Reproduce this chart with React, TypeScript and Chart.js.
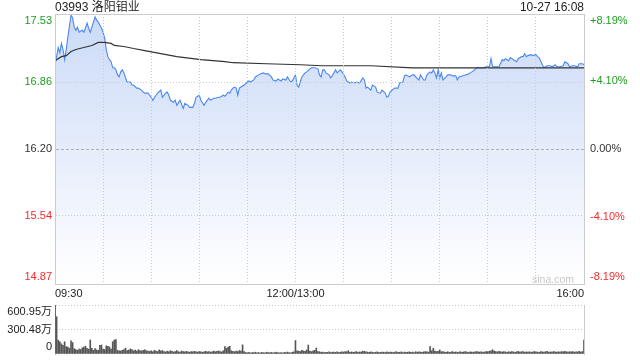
import React, { useEffect, useRef } from 'react';
import { Chart, registerables } from 'chart.js';

Chart.register(...registerables);

const FONT = "'Liberation Sans', 'Noto Sans CJK SC', Arial, sans-serif";

const STOCK_TITLE = '03993 洛阳钼业';
const TIMESTAMP = '10-27 16:08';
const WATERMARK = 'sina.com';

const PREV_CLOSE = 16.2;
const PRICE_MIN = 14.87;
const PRICE_MAX = 17.53;
const PCT_MAX = 8.19;
const priceTicks = [14.87, 15.54, 16.2, 16.86, 17.53];
const pctTicks = [-8.19, -4.1, 0, 4.1, 8.19];

const TOTAL_MINUTES = 330;
const gridMinutes = [0, 30, 60, 90, 120, 150, 180, 210, 240, 270, 300, 330];
const timeLabels: Record<number, string> = { 0: '09:30', 150: '12:00/13:00', 330: '16:00' };

const priceMinutes = [
  0, 1, 2, 3, 4, 5, 6, 7, 8, 10, 11, 12, 13, 14, 15, 17, 18, 19, 20, 21, 22, 23, 25, 26, 27, 28, 29, 30,
  31, 32, 33, 34, 35, 36, 37, 38, 39, 40, 41, 42, 43, 44, 45, 47, 48, 49, 51, 52, 54, 55, 56, 58, 60, 61,
  63, 64, 66, 67, 69, 70, 71, 72, 74, 75, 76, 78, 80, 81, 83, 84, 86, 87, 88, 90, 91, 93, 94, 96, 97, 99,
  100, 102, 103, 105, 106, 108, 109, 110, 111, 112, 113, 114, 115, 116, 118, 120, 121, 122, 124, 125, 127,
  128, 130, 131, 133, 135, 136, 138, 139, 141, 142, 144, 145, 147, 148, 150, 151, 152, 153, 154, 156, 157,
  159, 160, 162, 164, 165, 166, 167, 168, 169, 171, 172, 174, 175, 176, 178, 179, 181, 182, 184, 185, 187,
  188, 190, 192, 193, 194, 195, 197, 198, 200, 201, 203, 204, 206, 207, 208, 209, 211, 212, 214, 215, 217,
  218, 219, 221, 222, 223, 224, 225, 227, 228, 230, 231, 232, 234, 235, 236, 237, 238, 239, 240, 241, 242,
  244, 245, 247, 248, 250, 251, 252, 254, 256, 258, 259, 261, 263, 265, 267, 269, 271, 272, 273, 275, 276,
  277, 279, 280, 281, 283, 284, 286, 288, 289, 291, 292, 293, 294, 295, 297, 298, 300, 301, 302, 304, 305,
  306, 307, 309, 310, 312, 313, 315, 317, 318, 320, 321, 323, 324, 326, 327, 329, 330,
];

const prices = [
  17.03, 17.11, 17.2, 17.15, 17.24, 17.18, 17.08, 17.18, 17.3, 17.52, 17.49, 17.4, 17.37, 17.4, 17.35, 17.37,
  17.35, 17.39, 17.44, 17.39, 17.35, 17.4, 17.5, 17.47, 17.45, 17.42, 17.39, 17.35,
  17.29, 17.18, 17.11, 17.08, 17.06, 17.0, 17.0, 16.98, 16.93, 16.91, 16.96, 16.98, 16.95, 16.9, 16.86,
  16.86, 16.83, 16.83, 16.8, 16.8, 16.78, 16.76, 16.75, 16.75, 16.71, 16.68,
  16.73, 16.75, 16.78, 16.71, 16.75, 16.76, 16.73, 16.68, 16.66, 16.68, 16.63, 16.68, 16.6, 16.65, 16.63,
  16.61, 16.61, 16.65, 16.71, 16.73, 16.68, 16.63, 16.66, 16.7, 16.68, 16.7,
  16.7, 16.71, 16.71, 16.73, 16.72, 16.76, 16.75, 16.78, 16.8, 16.81, 16.8, 16.73, 16.8, 16.81, 16.83, 16.86,
  16.87, 16.86, 16.88, 16.91, 16.93,
  16.94, 16.95, 16.94, 16.94, 16.91, 16.88, 16.87, 16.89, 16.87, 16.89, 16.88, 16.91, 16.86, 16.87, 16.93,
  16.83, 16.81, 16.86, 16.91, 16.95, 16.96,
  16.99, 17.0, 17.0, 16.99, 16.93, 16.91, 16.98, 16.98, 16.95, 16.93, 16.9, 16.95, 16.98, 16.95, 16.98, 16.96,
  16.91, 16.87, 16.85, 16.86, 16.85,
  16.86, 16.85, 16.9, 16.88, 16.8, 16.81, 16.78, 16.83, 16.81, 16.76, 16.75, 16.78, 16.75, 16.71, 16.72, 16.76,
  16.79, 16.8, 16.8, 16.85, 16.86,
  16.92, 16.93, 16.91, 16.92, 16.93, 16.93, 16.91, 16.88, 16.93, 16.88, 16.88, 16.93, 16.96, 16.95, 16.98,
  16.95, 16.9, 16.98, 16.9, 16.95, 16.88,
  16.91, 16.93, 16.93, 16.92, 16.92, 16.88, 16.91, 16.92, 16.93, 16.94, 16.95, 16.97, 17.0, 17.0, 17.0, 17.01,
  17.01, 17.09, 17.01, 17.01, 17.01,
  17.01, 17.08, 17.07, 17.09, 17.07, 17.1, 17.08, 17.06, 17.09, 17.11, 17.11, 17.14, 17.11, 17.12, 17.13,
  17.12, 17.13, 17.11, 17.1, 17.03, 17.0,
  17.01, 17.02, 17.02, 17.01, 17.03, 17.01, 17.01, 17.02, 17.06, 17.04, 17.01, 17.02, 17.02, 17.01, 17.04,
  17.04, 17.03,
];

const avgMinutes = [0, 4, 7, 10, 13, 18, 23, 27, 31, 35, 37, 43, 49, 56, 66, 76, 91, 106, 111, 132, 153, 167, 197, 223, 265, 330];
const avgPrices = [
  17.07, 17.11, 17.12, 17.16, 17.18, 17.2, 17.22, 17.25, 17.25, 17.24, 17.22, 17.21, 17.19, 17.17, 17.14,
  17.11, 17.08, 17.06, 17.05, 17.04, 17.03, 17.02, 17.02, 17.0, 17.0, 17.0,
];

// volume per minute (万股), minute 0 .. 330
const volumes = [
  600.95, 457, 170, 150, 125, 105, 150, 90, 85, 70,
  160, 140, 65, 55, 45, 60, 55, 75, 85, 95,
  70, 60, 172, 70, 45, 65, 50, 45, 105, 110,
  60, 55, 100, 95, 85, 60, 150, 172, 176, 45,
  40, 38, 45, 55, 72, 42, 48, 62, 55, 40,
  48, 36, 52, 42, 38, 46, 52, 40, 36, 32,
  40, 28, 45, 35, 30, 50, 38, 42, 30, 26,
  35, 28, 40, 32, 25, 30, 42, 28, 24, 36,
  30, 26, 32, 28, 22, 30, 26, 34, 28, 24,
  30, 26, 22, 28, 34, 26, 30, 24, 28, 36,
  28, 32, 38, 30, 26, 40, 92, 70, 85, 95,
  40, 32, 28, 35, 30, 42, 36, 112, 30, 18,
  15, 20, 12, 18, 16, 22, 14, 18, 12, 20,
  16, 14, 22, 18, 15, 20, 14, 17, 22, 16,
  14, 18, 12, 20, 16, 24, 18, 14, 22, 26,
  165, 40, 35, 30, 45, 38, 32, 50, 110, 35,
  30, 38, 45, 72, 30, 28, 20, 24, 18, 22,
  20, 26, 18, 22, 24, 20, 28, 18, 22, 26,
  24, 30, 28, 40, 22, 26, 20, 24, 30, 22,
  26, 24, 35, 32, 28, 24, 20, 26, 22, 18,
  22, 26, 18, 20, 24, 22, 18, 26, 20, 24,
  22, 18, 24, 28, 20, 22, 26, 18, 24, 20,
  22, 26, 20, 24, 18, 28, 22, 26, 24, 20,
  26, 30, 28, 24, 92, 40, 70, 35, 30, 32,
  50, 28, 30, 24, 22, 28, 20, 24, 30, 22,
  26, 20, 24, 28, 22, 26, 30, 24, 20, 26,
  24, 22, 28, 30, 26, 24, 28, 22, 26, 30,
  28, 34, 40, 52, 36, 30, 26, 32, 28, 24,
  30, 26, 22, 28, 24, 30, 26, 22, 28, 32,
  24, 28, 30, 22, 26, 24, 28, 22, 26, 30,
  28, 24, 22, 30, 26, 24, 28, 32, 22, 26,
  24, 30, 26, 22, 28, 24, 30, 26, 32, 28,
  24, 28, 26, 30, 22, 28, 26, 32, 24, 30,
  172,
];
const VOL_MAX = 600.95;
const volTicks = [0, 300.48, 600.95];

const UP = '#1e9e1e';
const DOWN = '#f52a2a';
const NEUTRAL = '#333333';
const BORDER = '#cccccc';
const LEFT_W = 55;
const RIGHT_W = 56;

function colorFor(v: number, base: number) {
  if (Math.abs(v - base) < 1e-6) return NEUTRAL;
  return v > base ? UP : DOWN;
}

function edgeLabel(label: string, index: number, count: number): string | string[] {
  if (index === 0) return [label, ''];
  if (index === count - 1) return ['', label];
  return label;
}

export default function App() {
  const priceRef = useRef<HTMLCanvasElement | null>(null);
  const volRef = useRef<HTMLCanvasElement | null>(null);

  useEffect(() => {
    Chart.defaults.font.family = FONT;
    Chart.defaults.font.size = 11;

    const fixWidth = (w: number) => (scale: any) => {
      scale.width = w;
      scale.paddingTop = 0;
      scale.paddingBottom = 0;
    };

    const priceChart = new Chart(priceRef.current!, {
      type: 'line',
      data: {
        datasets: [
          {
            label: '均价',
            data: avgMinutes.map((m, i) => ({ x: m, y: avgPrices[i] })),
            borderColor: '#333333',
            borderWidth: 1.2,
            pointRadius: 0,
            fill: false,
            tension: 0,
          },
          {
            label: '价格',
            data: priceMinutes.map((m, i) => ({ x: m, y: prices[i] })),
            borderColor: '#4a88ef',
            borderWidth: 1.1,
            pointRadius: 0,
            tension: 0,
            fill: 'start',
            backgroundColor: (ctx: any) => {
              const { chart } = ctx;
              const area = chart.chartArea;
              if (!area) return 'rgba(214,227,249,0.8)';
              const g = chart.ctx.createLinearGradient(0, area.top, 0, area.bottom);
              g.addColorStop(0, '#cbdaf7');
              g.addColorStop(1, '#ffffff');
              return g;
            },
          },
        ],
      },
      options: {
        animation: false,
        responsive: false,
        events: [],
        layout: { padding: { top: 14, bottom: 0, left: 0, right: 0 } },
        plugins: { legend: { display: false }, tooltip: { enabled: false }, title: { display: false } },
        scales: {
          x: {
            type: 'linear',
            min: 0,
            max: TOTAL_MINUTES,
            offset: false,
            afterBuildTicks: (scale: any) => {
              scale.ticks = gridMinutes.map((v) => ({ value: v }));
            },
            afterFit: (scale: any) => {
              scale.height = 16;
              scale.paddingLeft = 0;
              scale.paddingRight = 0;
            },
            ticks: {
              autoSkip: false,
              maxRotation: 0,
              align: 'inner',
              padding: 3,
              color: '#222',
              font: { size: 11 },
              callback: (v: any) => timeLabels[v as number] ?? '',
            },
            grid: {
              z: 1,
              drawTicks: false,
              color: (ctx: any) =>
                ctx.index === 0 || ctx.index === gridMinutes.length - 1 ? 'rgba(0,0,0,0)' : '#cbcbcb',
              lineWidth: 1,
            },
            border: { display: true, color: BORDER, dash: [1, 2], z: 1 },
          },
          y: {
            type: 'linear',
            position: 'left',
            min: PRICE_MIN,
            max: PRICE_MAX,
            afterBuildTicks: (scale: any) => {
              scale.ticks = priceTicks.map((v) => ({ value: v }));
            },
            afterFit: fixWidth(LEFT_W),
            ticks: {
              autoSkip: false,
              padding: 3,
              font: { size: 11 },
              color: (ctx: any) => colorFor(ctx.tick.value, PREV_CLOSE),
              callback: (v: any, i: number) => edgeLabel(Number(v).toFixed(2), i, priceTicks.length),
            },
            grid: {
              z: 1,
              drawTicks: false,
              color: (ctx: any) => {
                if (!ctx.tick) return BORDER;
                if (ctx.index === 0 || ctx.index === priceTicks.length - 1) return BORDER;
                if (Math.abs(ctx.tick.value - PREV_CLOSE) < 1e-6) return '#b0b0b0';
                return '#cbcbcb';
              },
            },
            border: {
              display: true,
              z: 1,
              color: BORDER,
              dash: (ctx: any) => {
                if (!ctx || !ctx.tick) return [];
                if (ctx.index === 0 || ctx.index === priceTicks.length - 1) return [];
                if (Math.abs(ctx.tick.value - PREV_CLOSE) < 1e-6) return [3, 2];
                return [1, 2];
              },
            },
          },
          y1: {
            type: 'linear',
            position: 'right',
            min: -PCT_MAX,
            max: PCT_MAX,
            afterBuildTicks: (scale: any) => {
              scale.ticks = pctTicks.map((v) => ({ value: v }));
            },
            afterFit: fixWidth(RIGHT_W),
            ticks: {
              autoSkip: false,
              padding: 6,
              font: { size: 11 },
              color: (ctx: any) => colorFor(ctx.tick.value, 0),
              callback: (v: any, i: number) => {
                const n = Number(v);
                const s = (n > 0 ? '+' : '') + n.toFixed(2) + '%';
                return edgeLabel(s, i, pctTicks.length);
              },
            },
            grid: { display: false, drawTicks: false },
            border: { display: true, color: BORDER, z: 1 },
          },
        },
      },
    } as any);

    const volChart = new Chart(volRef.current!, {
      type: 'bar',
      data: {
        datasets: [
          {
            label: '成交量',
            data: volumes.map((v, i) => ({ x: i, y: v })),
            backgroundColor: '#555555',
            borderWidth: 0,
            barThickness: 1,
          },
        ],
      },
      options: {
        animation: false,
        responsive: false,
        events: [],
        layout: { padding: { top: 5, bottom: 6, left: 0, right: 0 } },
        plugins: { legend: { display: false }, tooltip: { enabled: false } },
        scales: {
          x: {
            type: 'linear',
            min: 0,
            max: TOTAL_MINUTES,
            offset: false,
            display: false,
          },
          y: {
            type: 'linear',
            position: 'left',
            min: 0,
            max: VOL_MAX,
            afterBuildTicks: (scale: any) => {
              scale.ticks = volTicks.map((v) => ({ value: v }));
            },
            afterFit: fixWidth(LEFT_W),
            ticks: {
              autoSkip: false,
              padding: 3,
              font: { size: 11 },
              color: '#222',
              callback: (v: any, i: number) => {
                const n = Number(v);
                const s = n === 0 ? '0' : n.toFixed(2) + '万';
                return edgeLabel(s, i, volTicks.length);
              },
            },
            grid: {
              drawTicks: false,
              color: (ctx: any) => (ctx.index === 0 ? 'rgba(0,0,0,0)' : '#c4c4c4'),
            },
            border: {
              display: true,
              color: BORDER,
              dash: (ctx: any) => (ctx && ctx.tick ? [1, 2] : []),
            },
          },
          yR: {
            type: 'linear',
            position: 'right',
            min: 0,
            max: VOL_MAX,
            afterFit: fixWidth(RIGHT_W),
            ticks: { display: false },
            grid: { display: false, drawTicks: false },
            border: { display: true, color: BORDER },
          },
        },
      },
    } as any);

    return () => {
      priceChart.destroy();
      volChart.destroy();
    };
  }, []);

  const textBase: React.CSSProperties = {
    position: 'absolute',
    fontFamily: FONT,
    whiteSpace: 'nowrap',
  };

  return (
    <div style={{ position: 'absolute', left: 0, top: 0, width: 640, height: 360, background: '#fff', overflow: 'hidden' }}>
      <canvas ref={priceRef} width={640} height={300} style={{ position: 'absolute', left: 0, top: 0, width: 640, height: 300 }} />
      <canvas ref={volRef} width={640} height={60} style={{ position: 'absolute', left: 0, top: 300, width: 640, height: 60 }} />
      <div style={{ ...textBase, left: 55, top: 0, fontSize: 12, lineHeight: '14px', color: '#222' }}>{STOCK_TITLE}</div>
      <div style={{ ...textBase, right: 640 - 584, top: 0, fontSize: 12, lineHeight: '14px', color: '#222' }}>{TIMESTAMP}</div>
      <div style={{ ...textBase, left: 532, top: 273, fontSize: 10.5, lineHeight: '12px', color: '#c8c8c8' }}>{WATERMARK}</div>
    </div>
  );
}
